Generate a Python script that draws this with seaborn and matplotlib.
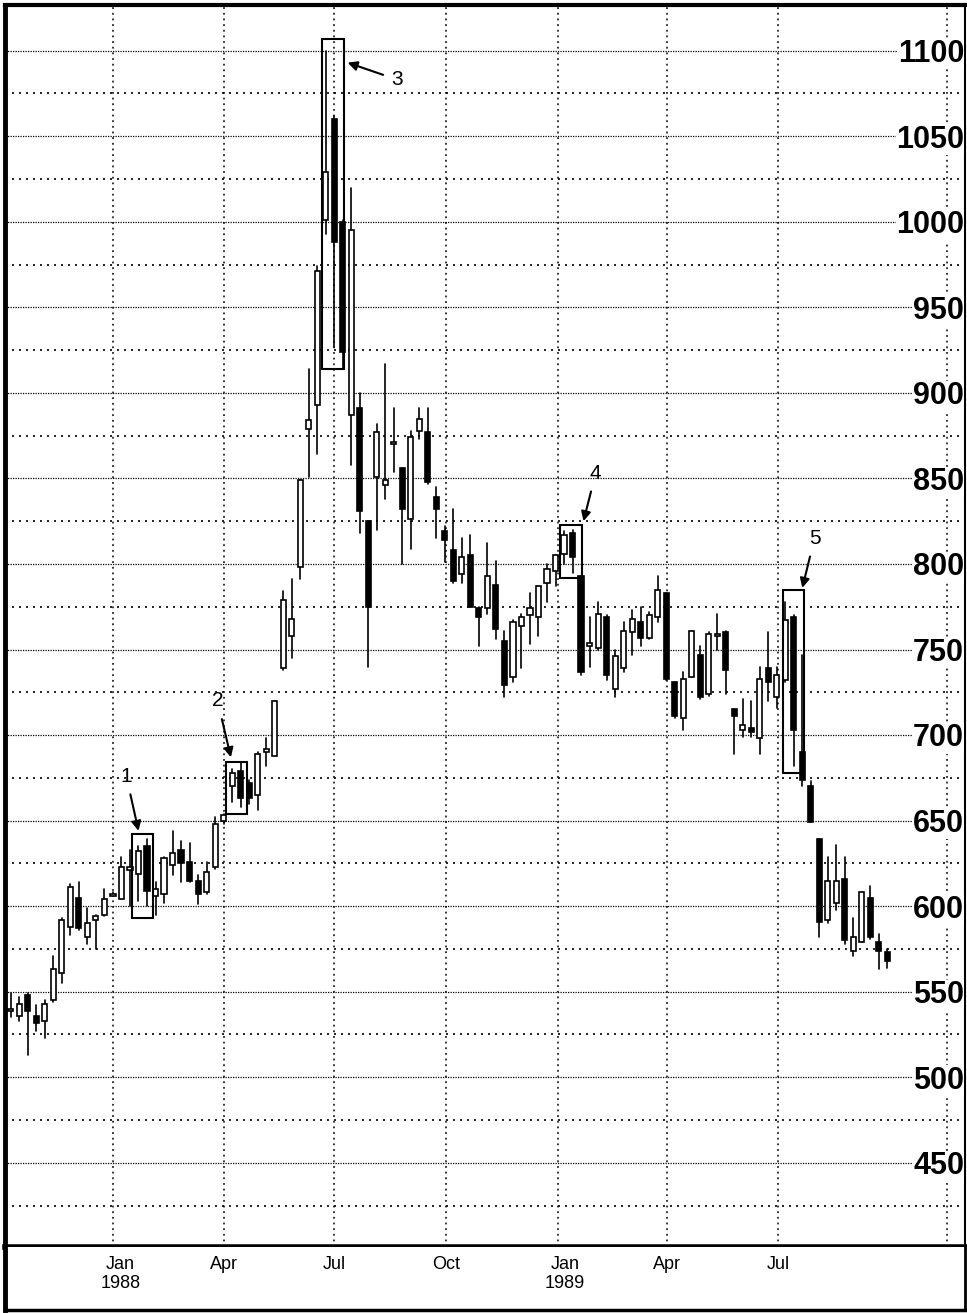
import matplotlib
matplotlib.use("Agg")
import matplotlib.pyplot as plt
import matplotlib.dates as mdates
from matplotlib.patches import Rectangle
import matplotlib.transforms as mtransforms
import seaborn as sns
import pandas as pd
import numpy as np

# weekly bars (cents), first bar week of 9 Oct 1987
week_dates = pd.date_range("1987-10-09", periods=104, freq="7D")

opens = [539, 536, 548, 536, 533, 545, 561, 588, 605, 582,
         592, 595, 606, 604, 621, 619, 635, 606, 607, 624,
         633, 626, 615, 608, 623, 650, 670, 679, 672, 665,
         690, 688, 739, 758, 798, 879, 893, 1001, 1060, 1000,
         887, 891, 825, 851, 846, 870, 856, 826, 878, 877,
         839, 819, 808, 794, 805, 774, 774, 788, 755, 734,
         764, 770, 769, 789, 796, 806, 818, 793, 752, 751,
         769, 727, 739, 760, 766, 757, 769, 783, 731, 710,
         734, 747, 724, 758, 760, 715, 703, 704, 698, 739,
         722, 732, 769, 690, 670, 639, 592, 602, 616, 574,
         579, 605, 579, 573]

highs = [549, 547, 549, 542, 545, 571, 593, 613, 614, 599,
         595, 610, 608, 629, 633, 635, 639, 614, 629, 644,
         638, 637, 618, 626, 652, 654, 680, 684, 674, 690,
         698, 720, 784, 791, 849, 914, 974, 1100, 1062, 1001,
         1020, 900, 825, 882, 917, 891, 856, 878, 891, 891,
         845, 822, 832, 815, 817, 775, 812, 802, 761, 767,
         771, 783, 787, 800, 805, 819, 820, 793, 769, 778,
         770, 750, 766, 773, 775, 772, 793, 783, 731, 737,
         761, 752, 760, 771, 761, 715, 721, 720, 740, 760,
         740, 778, 770, 747, 673, 639, 629, 636, 629, 593,
         608, 612, 584, 575]

lows = [535, 533, 513, 527, 523, 544, 555, 583, 586, 578,
        575, 594, 606, 604, 600, 603, 600, 595, 602, 618,
        614, 614, 601, 607, 622, 648, 661, 658, 660, 656,
        682, 688, 738, 745, 791, 851, 864, 993, 927, 914,
        858, 818, 740, 820, 838, 854, 800, 809, 873, 847,
        815, 801, 789, 789, 775, 752, 771, 756, 722, 731,
        739, 753, 758, 778, 787, 800, 795, 735, 740, 750,
        732, 722, 737, 747, 752, 756, 766, 732, 710, 703,
        734, 721, 723, 750, 724, 689, 699, 699, 689, 720,
        716, 731, 682, 670, 649, 582, 590, 598, 578, 571,
        579, 581, 563, 564]

closes = [540, 543, 539, 532, 543, 563, 592, 611, 587, 590,
          594, 604, 607, 623, 623, 632, 609, 610, 628, 631,
          625, 615, 607, 620, 648, 653, 678, 663, 663, 689,
          692, 720, 779, 768, 849, 884, 971, 1029, 988, 924,
          995, 831, 775, 877, 849, 871, 832, 874, 885, 848,
          832, 814, 790, 804, 775, 769, 793, 762, 729, 766,
          769, 774, 787, 797, 805, 817, 804, 737, 754, 771,
          735, 746, 761, 768, 757, 770, 785, 733, 711, 733,
          761, 722, 759, 759, 738, 711, 706, 702, 733, 731,
          735, 767, 703, 674, 649, 591, 615, 615, 580, 582,
          608, 582, 574, 568]

price_levels = list(range(450, 1101, 50))
month_lines = ["1988-01-01", "1988-04-01", "1988-07-01", "1988-10-01",
               "1989-01-01", "1989-04-01", "1989-07-01"]
month_labels = [("Jan", "1988"), ("Apr", ""), ("Jul", ""), ("Oct", ""),
                ("Jan", "1989"), ("Apr", ""), ("Jul", "")]

# numbered boxes: (label, start, end, low, high, text date, text price, tip date, tip price)
boxes = [
    ("1", "1988-01-17", "1988-02-03", 593, 642, "1988-01-12", 676, "1988-01-22", 644),
    ("2", "1988-04-03", "1988-04-20", 654, 684, "1988-03-27", 720, "1988-04-07", 687),
    ("3", "1988-06-21", "1988-07-09", 914, 1107, "1988-08-22", 1083, "1988-07-12", 1093),
    ("4", "1989-01-03", "1989-01-21", 792, 823, "1989-02-01", 853, "1989-01-22", 825),
    ("5", "1989-07-05", "1989-07-22", 678, 785, "1989-07-31", 815, "1989-07-21", 786),
]

sns.set_theme(style="white")
plt.rcParams["font.family"] = ["Liberation Sans", "DejaVu Sans"]
plt.rcParams["text.color"] = "black"

df = pd.DataFrame({"date": week_dates, "open": opens, "high": highs,
                   "low": lows, "close": closes})
df["week"] = np.arange(len(df))
wicks = pd.concat([
    df[["week", "date"]].assign(price=df["high"]),
    df[["week", "date"]].assign(price=df["low"]),
]).sort_values(["week", "price"])

fig = plt.figure(figsize=(9.67, 13.13), dpi=100)
ax = fig.add_axes([5 / 967, 66 / 1313, 960 / 967, 1242 / 1313])
ax_d = fig.add_axes([5 / 967, 3 / 1313, 960 / 967, 63 / 1313])

base = mdates.date2num(pd.Timestamp("1988-01-01"))
x0, x1 = base - 88.8, base + 700.8

# grid
for lvl in range(425, 1101, 25):
    if lvl % 50 == 0:
        ax.axhline(lvl, color="black", lw=0.9, ls=(0, (1, 1)), zorder=1)
    else:
        ax.axhline(lvl, color="black", lw=1.2, ls=(0, (1.2, 3)), zorder=1)
for m in month_lines:
    ax.axvline(pd.Timestamp(m), color="black", lw=1.1, ls=(0, (1.2, 2.5)), zorder=1)
ax.axvline(base + 686, color="black", lw=1.1, ls=(0, (1.2, 2.5)), zorder=1)

# wicks
sns.lineplot(data=wicks, x="date", y="price", units="week", estimator=None,
             sort=False, color="black", lw=1.2, ax=ax, legend=False, zorder=2)

# bodies
up = df["close"] >= df["open"]
body_low = np.minimum(df["open"], df["close"])
body_h = np.maximum(np.abs(df["close"] - df["open"]), 1.0)
ax.bar(df["date"], body_h, bottom=body_low, width=4.2,
       color=np.where(up, "white", "black"), edgecolor="black", lw=1.2, zorder=3)

# annotations
for lab, s, e, lo, hi, tx, ty, px, py in boxes:
    s_num = mdates.date2num(pd.Timestamp(s))
    e_num = mdates.date2num(pd.Timestamp(e))
    ax.add_patch(Rectangle((s_num, lo), e_num - s_num, hi - lo, fill=False,
                           edgecolor="black", lw=1.5, zorder=4))
    ax.annotate(lab, xy=(pd.Timestamp(px), py), xytext=(pd.Timestamp(tx), ty),
                ha="center", va="center", fontsize=15, color="black", zorder=5,
                arrowprops=dict(arrowstyle="-|>", color="black", lw=1.5,
                                mutation_scale=14, shrinkA=4, shrinkB=0))

# price labels inside right edge
trans = mtransforms.blended_transform_factory(ax.transAxes, ax.transData)
for lvl in price_levels:
    ax.text(0.999, lvl - 2, str(lvl), transform=trans, ha="right", va="center",
            fontsize=22, fontweight="bold", color="black", zorder=6,
            bbox=dict(facecolor="white", edgecolor="none", pad=0.3))

ax.set_xlim(x0, x1)
ax.set_ylim(400.8, 1126.7)
ax.set_xticks([])
ax.set_yticks([])
ax.set_xlabel("")
ax.set_ylabel("")
for side, w in [("left", 3.5), ("top", 3.0), ("right", 1.5), ("bottom", 4.0)]:
    ax.spines[side].set_visible(True)
    ax.spines[side].set_color("black")
    ax.spines[side].set_linewidth(w)

# date panel
ax_d.set_xlim(x0, x1)
ax_d.set_ylim(0, 1)
ax_d.set_xticks([])
ax_d.set_yticks([])
for m, (mon, yr) in zip(month_lines, month_labels):
    xd = mdates.date2num(pd.Timestamp(m)) + (6 if mon == "Jan" else 0)
    ax_d.text(xd, 0.72, mon, ha="center", va="center", fontsize=13, color="black")
    if yr:
        ax_d.text(xd, 0.42, yr, ha="center", va="center", fontsize=13, color="black")
for side, w in [("left", 3.5), ("top", 0), ("right", 2.0), ("bottom", 2.5)]:
    ax_d.spines[side].set_visible(w > 0)
    ax_d.spines[side].set_color("black")
    ax_d.spines[side].set_linewidth(w)

fig.savefig("out.png", dpi=100)
